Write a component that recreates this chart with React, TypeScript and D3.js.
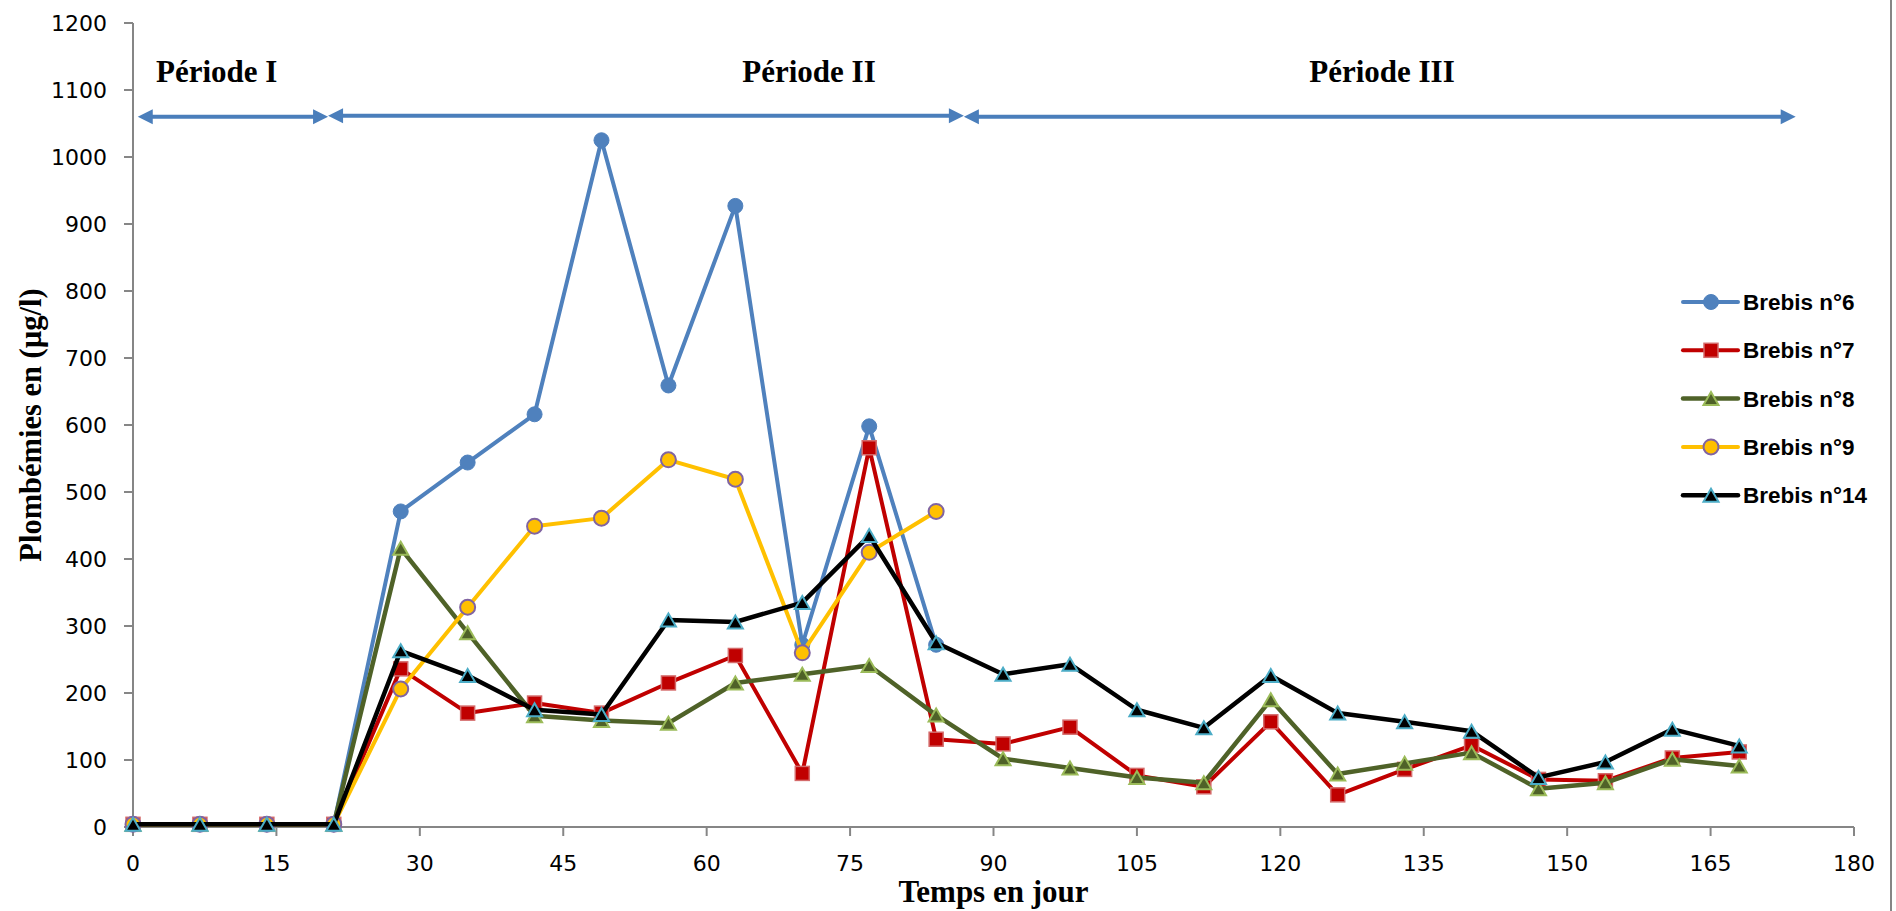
import React from "react";
import * as d3 from "d3";

// Sampling days (weekly)
const days = [0, 7, 14, 21, 28, 35, 42, 49, 56, 63, 70, 77, 84, 91, 98, 105, 112, 119, 126, 133, 140, 147, 154, 161, 168];

// Blood lead levels (µg/l) per ewe
const brebis6 = [4, 4, 4, 4, 471, 544, 616, 1025, 659, 927, 272, 598, 272];
const brebis7 = [4, 4, 4, 4, 236, 170, 185, 170, 215, 256, 80, 566, 131, 124, 149, 77, 60, 157, 48, 86, 122, 71, 69, 103, 112];
const brebis8 = [4, 4, 4, 4, 416, 290, 166, 159, 155, 215, 228, 241, 167, 102, 88, 74, 66, 190, 79, 95, 111, 57, 66, 101, 91];
const brebis9 = [4, 4, 4, 4, 206, 328, 449, 461, 548, 519, 260, 410, 471];
const brebis14 = [4, 4, 4, 4, 263, 226, 175, 168, 309, 306, 335, 435, 275, 228, 243, 175, 148, 226, 170, 157, 143, 74, 97, 146, 121];

const seriesNames = ["Brebis n°6", "Brebis n°7", "Brebis n°8", "Brebis n°9", "Brebis n°14"];

// Axis ticks
const xTicks = [0, 15, 30, 45, 60, 75, 90, 105, 120, 135, 150, 165, 180];
const yTicks = [0, 100, 200, 300, 400, 500, 600, 700, 800, 900, 1000, 1100, 1200];

// Experimental periods (day bounds of the arrows) and their labels
const periodLabels = ["Période I", "Période II", "Période III"];
const periodBounds = [0.5, 20.4, 86.9, 173.9];
const periodArrowLevel = 1060;

type Marker = "circle" | "square" | "triangle";
interface Style {
  line: string;
  width: number;
  marker: Marker;
  fill: string;
  stroke: string;
  strokeWidth: number;
}

const styles: Style[] = [
  { line: "#4F81BD", width: 4, marker: "circle", fill: "#4F81BD", stroke: "#4F81BD", strokeWidth: 1 },
  { line: "#C00000", width: 4, marker: "square", fill: "#C00000", stroke: "#D46A6A", strokeWidth: 1.5 },
  { line: "#4F6228", width: 4.5, marker: "triangle", fill: "#4F6228", stroke: "#9BBB59", strokeWidth: 2 },
  { line: "#FFC000", width: 4, marker: "circle", fill: "#FFC000", stroke: "#8064A2", strokeWidth: 2 },
  { line: "#000000", width: 4.5, marker: "triangle", fill: "#000000", stroke: "#4BACC6", strokeWidth: 2 },
];

const W = 1896;
const H = 911;

const x = d3.scaleLinear().domain([0, 180]).range([133, 1854]);
const y = d3.scaleLinear().domain([0, 1200]).range([827, 23]);

function MarkerShape({ cx, cy, s }: { cx: number; cy: number; s: Style }) {
  if (s.marker === "circle") {
    return <circle cx={cx} cy={cy} r={7.5} fill={s.fill} stroke={s.stroke} strokeWidth={s.strokeWidth} />;
  }
  if (s.marker === "square") {
    return <rect x={cx - 7} y={cy - 7} width={14} height={14} fill={s.fill} stroke={s.stroke} strokeWidth={s.strokeWidth} />;
  }
  const w = 15;
  const h = 13;
  return (
    <path
      d={`M${cx},${cy - h / 2} L${cx + w / 2},${cy + h / 2} L${cx - w / 2},${cy + h / 2} Z`}
      fill={s.fill}
      stroke={s.stroke}
      strokeWidth={s.strokeWidth}
      strokeLinejoin="miter"
    />
  );
}

function Arrow({ x1, x2, yy, headLeft, headRight }: { x1: number; x2: number; yy: number; headLeft: boolean; headRight: boolean }) {
  const hl = 15;
  const hw = 7.5;
  const color = "#4A7EBB";
  return (
    <g>
      <line x1={headLeft ? x1 + hl - 1 : x1} x2={headRight ? x2 - hl + 1 : x2} y1={yy} y2={yy} stroke={color} strokeWidth={4} />
      {headLeft && <path d={`M${x1},${yy} L${x1 + hl},${yy - hw} L${x1 + hl},${yy + hw} Z`} fill={color} />}
      {headRight && <path d={`M${x2},${yy} L${x2 - hl},${yy - hw} L${x2 - hl},${yy + hw} Z`} fill={color} />}
    </g>
  );
}

export default function App() {
  const allSeries = [brebis6, brebis7, brebis8, brebis9, brebis14];
  const line = d3
    .line<[number, number]>()
    .x((d) => x(d[0]))
    .y((d) => y(d[1]));

  const axisColor = "#868686";
  const tickFont = "'DejaVu Sans', Verdana, sans-serif";
  const legendFont = "'Liberation Sans', Arial, sans-serif";
  const titleFont = "'Liberation Serif', 'Times New Roman', serif";
  const arrowY = y(periodArrowLevel);

  const legendX = 1683;
  const legendY0 = 302;
  const legendStep = 48.3;

  return (
    <svg
      width={W}
      height={H}
      viewBox={`0 0 ${W} ${H}`}
      style={{ position: "absolute", left: 0, top: 0, display: "block", background: "#fff" }}
    >
      <rect x={0} y={0} width={W} height={H} fill="#fff" />
      {/* chart area right border */}
      <line x1={1891} x2={1891} y1={0} y2={H} stroke={axisColor} strokeWidth={2} />

      {/* Y axis */}
      <line x1={x(0)} x2={x(0)} y1={y(1200)} y2={y(0)} stroke={axisColor} strokeWidth={2} />
      {yTicks.map((t) => (
        <g key={`y${t}`}>
          <line x1={x(0) - 9} x2={x(0)} y1={y(t)} y2={y(t)} stroke={axisColor} strokeWidth={2} />
          <text x={107} y={y(t)} dy="0.37em" textAnchor="end" fontFamily={tickFont} fontSize={22} fill="#000">
            {t}
          </text>
        </g>
      ))}

      {/* X axis */}
      <line x1={x(0)} x2={x(180)} y1={y(0)} y2={y(0)} stroke={axisColor} strokeWidth={2} />
      {xTicks.map((t) => (
        <g key={`x${t}`}>
          <line x1={x(t)} x2={x(t)} y1={y(0)} y2={y(0) + 9} stroke={axisColor} strokeWidth={2} />
          <text x={x(t)} y={871} textAnchor="middle" fontFamily={tickFont} fontSize={22} fill="#000">
            {t}
          </text>
        </g>
      ))}

      {/* Axis titles */}
      <text x={(x(0) + x(180)) / 2} y={902} textAnchor="middle" fontFamily={titleFont} fontWeight="bold" fontSize={31} fill="#000">
        Temps en jour
      </text>
      <text
        transform={`translate(41,${(y(0) + y(1200)) / 2}) rotate(-90)`}
        textAnchor="middle"
        fontFamily={titleFont}
        fontWeight="bold"
        fontSize={30.5}
        fill="#000"
      >
        Plombémies en (µg/l)
      </text>

      {/* Period arrows */}
      <Arrow x1={x(periodBounds[0])} x2={x(periodBounds[1])} yy={arrowY} headLeft headRight />
      <Arrow x1={x(periodBounds[1])} x2={x(periodBounds[2])} yy={arrowY - 1} headLeft headRight />
      <Arrow x1={x(periodBounds[2])} x2={x(periodBounds[3])} yy={arrowY} headLeft headRight />

      {/* Period labels */}
      <text x={156} y={82} fontFamily={titleFont} fontWeight="bold" fontSize={31} fill="#000">
        {periodLabels[0]}
      </text>
      <text x={809} y={82} textAnchor="middle" fontFamily={titleFont} fontWeight="bold" fontSize={31} fill="#000">
        {periodLabels[1]}
      </text>
      <text x={1382} y={82} textAnchor="middle" fontFamily={titleFont} fontWeight="bold" fontSize={31} fill="#000">
        {periodLabels[2]}
      </text>

      {/* Series */}
      {allSeries.map((vals, i) => {
        const pts: [number, number][] = vals.map((v, j) => [days[j], v]);
        const s = styles[i];
        return (
          <g key={`s${i}`}>
            <path d={line(pts) || ""} fill="none" stroke={s.line} strokeWidth={s.width} strokeLinejoin="round" strokeLinecap="round" />
            {pts.map((p, j) => (
              <MarkerShape key={j} cx={x(p[0])} cy={y(p[1])} s={s} />
            ))}
          </g>
        );
      })}

      {/* Legend */}
      {seriesNames.map((name, i) => {
        const s = styles[i];
        const ly = legendY0 + i * legendStep;
        return (
          <g key={`l${i}`}>
            <line x1={legendX} x2={legendX + 55} y1={ly} y2={ly} stroke={s.line} strokeWidth={s.width} strokeLinecap="round" />
            <MarkerShape cx={legendX + 28} cy={ly} s={s} />
            <text x={1743} y={ly} dy="0.36em" fontFamily={legendFont} fontWeight="bold" fontSize={22.5} fill="#000">
              {name}
            </text>
          </g>
        );
      })}
    </svg>
  );
}
